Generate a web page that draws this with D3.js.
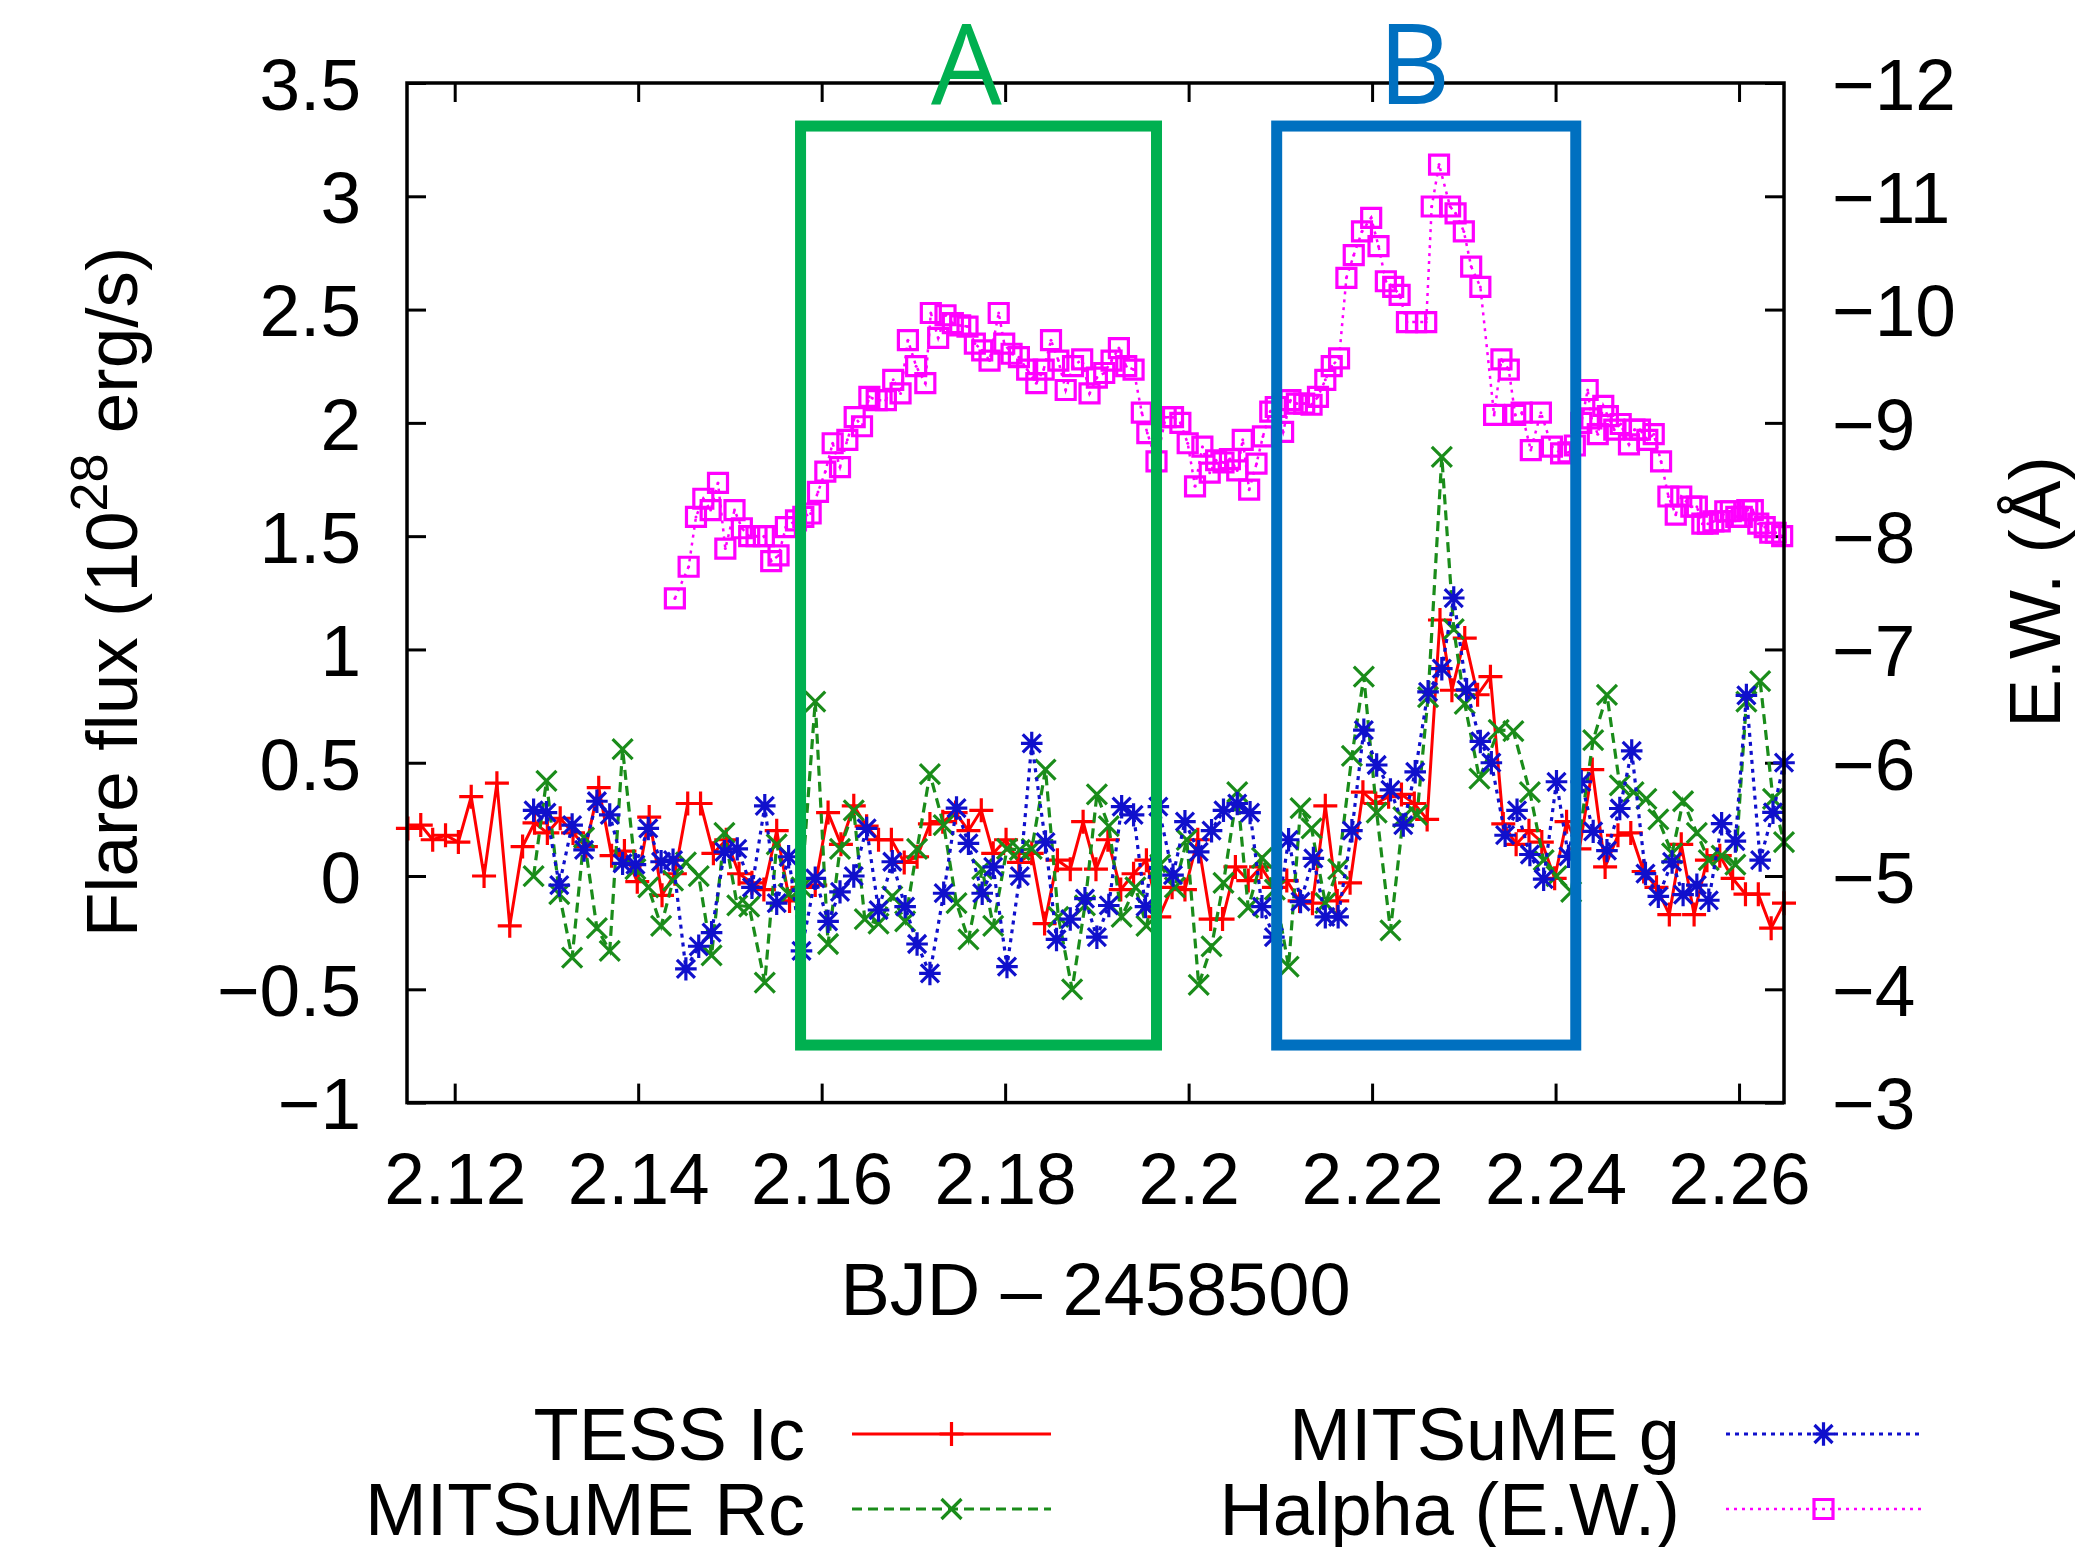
<!DOCTYPE html>
<html>
<head>
<meta charset="utf-8">
<script src="https://cdn.jsdelivr.net/npm/d3@7"></script>
<style>
  html, body { margin: 0; padding: 0; background: #fff; }
  svg text { font-family: "Liberation Sans", Arial, Helvetica, sans-serif; fill: #000; }
</style>
</head>
<body>
<svg id="chart" width="2087" height="1547"></svg>
<script>
// axis ticks
var xTicks = [2.12, 2.14, 2.16, 2.18, 2.2, 2.22, 2.24, 2.26];
var yTicks = [-1, -0.5, 0, 0.5, 1, 1.5, 2, 2.5, 3, 3.5];
var y2Ticks = [-12, -11, -10, -9, -8, -7, -6, -5, -4, -3];

// TESS Ic flare flux (1e28 erg/s)
var tessTime = [2.1149,2.1163,2.1176,2.1190,2.1204,2.1218,2.1232,2.1246,2.1260,2.1274,
  2.1287,2.1301,2.1315,2.1329,2.1343,2.1357,2.1371,2.1385,2.1399,2.1412,
  2.1426,2.1440,2.1454,2.1468,2.1482,2.1496,2.1510,2.1524,2.1537,2.1551,
  2.1565,2.1579,2.1593,2.1607,2.1621,2.1635,2.1649,2.1662,2.1676,2.1690,
  2.1704,2.1718,2.1732,2.1746,2.1760,2.1774,2.1787,2.1801,2.1815,2.1829,
  2.1843,2.1857,2.1871,2.1885,2.1899,2.1912,2.1926,2.1940,2.1954,2.1968,
  2.1982,2.1996,2.2010,2.2024,2.2037,2.2051,2.2065,2.2079,2.2093,2.2107,
  2.2121,2.2135,2.2149,2.2162,2.2176,2.2190,2.2204,2.2218,2.2232,2.2246,
  2.2260,2.2274,2.2287,2.2301,2.2315,2.2329,2.2343,2.2357,2.2371,2.2385,
  2.2399,2.2412,2.2426,2.2440,2.2454,2.2468,2.2482,2.2496,2.2510,2.2524,
  2.2537,2.2551,2.2565,2.2579,2.2593,2.2607,2.2621,2.2635,2.2649];
var tessFlux = [0.21,0.225,0.16,0.18,0.15,0.35,0.0,0.41,-0.22,0.13,
  0.235,0.19,0.255,0.19,0.13,0.39,0.09,0.11,-0.025,0.26,
  -0.085,0.01,0.32,0.32,0.10,0.16,0.01,-0.03,-0.06,0.20,
  -0.11,-0.05,-0.04,0.28,0.14,0.31,0.22,0.16,0.16,0.06,
  0.085,0.23,0.24,0.28,0.20,0.29,0.10,0.16,0.06,0.10,
  -0.21,0.07,0.03,0.24,0.03,0.16,-0.06,0.01,0.07,-0.18,
  -0.05,-0.06,0.16,-0.19,-0.19,0.04,-0.02,0.04,-0.05,-0.02,
  -0.11,-0.12,0.31,-0.11,-0.03,0.37,0.32,0.35,0.36,0.32,
  0.25,1.13,0.82,1.05,0.80,0.88,0.23,0.14,0.20,0.15,
  -0.01,0.24,0.12,0.47,0.04,0.18,0.19,0.02,-0.05,-0.17,
  0.14,-0.17,0.07,0.09,-0.01,-0.08,-0.08,-0.23,-0.12];

// MITSuME Rc
var rcTime = [2.1286,2.1300,2.1314,2.1328,2.1341,2.1355,2.1369,2.1383,2.1397,2.1411,
  2.1425,2.1438,2.1452,2.1466,2.1480,2.1494,2.1508,2.1521,2.1538,2.1551,
  2.1564,2.1578,2.1593,2.1607,2.1620,2.1635,2.1647,2.1662,2.1677,2.1691,
  2.1704,2.1718,2.1733,2.1747,2.1760,2.1775,2.1787,2.1802,2.1816,2.1829,
  2.1844,2.1858,2.1873,2.1887,2.1900,2.1913,2.1927,2.1942,2.1954,2.1969,
  2.1985,2.1998,2.2011,2.2025,2.2038,2.2053,2.2065,2.2080,2.2094,2.2109,
  2.2122,2.2134,2.2149,2.2163,2.2178,2.2191,2.2205,2.2220,2.2234,2.2249,
  2.2261,2.2276,2.2289,2.2301,2.2317,2.2338,2.2354,2.2372,2.2387,2.2401,
  2.2417,2.2441,2.2456,2.2470,2.2485,2.2499,2.2512,2.2527,2.2539,2.2554,
  2.2567,2.2581,2.2596,2.2608,2.2623,2.2637,2.2649];
var rcFlux = [0.0,0.42,-0.08,-0.36,0.17,-0.23,-0.33,0.56,0.03,-0.05,
  -0.22,-0.02,0.06,0.0,-0.35,0.19,-0.13,-0.135,-0.47,0.14,
  -0.08,-0.05,0.77,-0.30,0.12,0.29,-0.19,-0.21,-0.09,-0.20,
  0.12,0.45,0.225,-0.12,-0.28,0.03,-0.22,0.12,0.115,0.12,
  0.47,-0.18,-0.50,-0.13,0.36,0.22,-0.18,-0.05,-0.22,0.05,
  -0.05,0.16,-0.48,-0.31,-0.03,0.37,-0.14,0.08,-0.06,-0.40,
  0.30,0.21,-0.12,0.03,0.53,0.88,0.28,-0.24,0.26,0.27,
  0.79,1.85,1.09,0.76,0.43,0.645,0.64,0.37,0.07,0.0,
  -0.07,0.60,0.80,0.40,0.37,0.34,0.25,0.10,0.33,0.19,
  0.07,0.09,0.05,0.77,0.86,0.34,0.15];

// MITSuME g
var gTime = [2.1286,2.1300,2.1314,2.1328,2.1341,2.1355,2.1369,2.1383,2.1397,2.1411,
  2.1425,2.1438,2.1452,2.1466,2.1480,2.1494,2.1508,2.1524,2.1538,2.1551,
  2.1564,2.1578,2.1593,2.1607,2.1620,2.1635,2.1649,2.1662,2.1677,2.1691,
  2.1704,2.1718,2.1733,2.1747,2.1760,2.1775,2.1787,2.1802,2.1816,2.1829,
  2.1844,2.1856,2.1871,2.1887,2.1900,2.1913,2.1927,2.1940,2.1953,2.1967,
  2.1983,2.1996,2.2011,2.2025,2.2038,2.2053,2.2067,2.2080,2.2093,2.2109,
  2.2122,2.2136,2.2149,2.2163,2.2178,2.2191,2.2205,2.2220,2.2234,2.2247,
  2.2261,2.2276,2.2289,2.2303,2.2318,2.2330,2.2345,2.2358,2.2372,2.2387,
  2.2401,2.2414,2.2428,2.2441,2.2456,2.2470,2.2483,2.2498,2.2512,2.2527,
  2.2539,2.2554,2.2567,2.2581,2.2596,2.2608,2.2623,2.2637,2.2649];
var gFlux = [0.29,0.28,-0.04,0.225,0.115,0.33,0.27,0.056,0.05,0.21,
  0.063,0.07,-0.41,-0.31,-0.25,0.107,0.12,-0.05,0.31,-0.12,
  0.085,-0.33,-0.01,-0.20,-0.07,0.0,0.21,-0.15,0.063,-0.135,
  -0.30,-0.43,-0.076,0.30,0.144,-0.076,0.04,-0.40,0.0,0.585,
  0.15,-0.28,-0.19,-0.10,-0.27,-0.13,0.306,0.27,-0.135,0.306,
  0.004,0.24,0.107,0.20,0.29,0.32,0.28,-0.135,-0.27,0.16,
  -0.113,0.078,-0.18,-0.18,0.20,0.644,0.49,0.38,0.225,0.46,
  0.813,0.915,1.227,0.822,0.594,0.50,0.18,0.29,0.095,-0.014,
  0.416,0.087,0.416,0.197,0.112,0.298,0.552,0.011,-0.09,0.062,
  -0.082,-0.04,-0.107,0.231,0.154,0.797,0.07,0.281,0.5];

// Halpha equivalent width (Angstrom), right axis
var haTime = [2.1440,2.1455,2.1463,2.1471,2.1479,2.1487,2.1495,2.1505,2.1513,2.1521,
  2.1529,2.1537,2.1545,2.1553,2.1561,2.1572,2.1580,2.1588,2.1596,2.1604,
  2.1612,2.1620,2.1628,2.1636,2.1644,2.1652,2.1660,2.1670,2.1678,2.1686,
  2.1694,2.1703,2.1713,2.1719,2.1727,2.1735,2.1743,2.1751,2.1759,2.1767,
  2.1775,2.1783,2.1793,2.1799,2.1807,2.1815,2.1824,2.1834,2.1842,2.1850,
  2.1858,2.1866,2.1874,2.1884,2.1892,2.1900,2.1908,2.1916,2.1924,2.1932,
  2.1940,2.1949,2.1955,2.1965,2.1975,2.1983,2.1991,2.1999,2.2007,2.2015,
  2.2023,2.2030,2.2038,2.2045,2.2053,2.2059,2.2066,2.2074,2.2081,2.2089,
  2.2095,2.2103,2.2111,2.2118,2.2126,2.2134,2.2141,2.2149,2.2156,2.2164,
  2.2172,2.2180,2.2189,2.2199,2.2207,2.2215,2.2223,2.2230,2.2238,2.2248,
  2.2259,2.2265,2.2273,2.2285,2.2291,2.2300,2.2308,2.2318,2.2333,2.2341,
  2.2349,2.2356,2.2363,2.2373,2.2384,2.2396,2.2406,2.2414,2.2421,2.2428,
  2.2435,2.2439,2.2446,2.2452,2.2457,2.2464,2.2471,2.2480,2.2486,2.2492,
  2.2500,2.2507,2.2515,2.2523,2.2531,2.2537,2.2548,2.2554,2.2560,2.2566,
  2.2572,2.2579,2.2585,2.2591,2.2597,2.2603,2.2609,2.2615,2.2621,2.2628,
  2.2634,2.2640,2.2647];
var haEW = [-7.45,-7.73,-8.17,-8.33,-8.23,-8.47,-7.89,-8.23,-8.07,-8.00,
  -8.00,-8.00,-7.78,-7.83,-8.08,-8.14,-8.17,-8.20,-8.39,-8.57,
  -8.82,-8.61,-8.85,-9.05,-8.97,-9.23,-9.20,-9.20,-9.38,-9.26,
  -9.73,-9.50,-9.35,-9.97,-9.75,-9.95,-9.88,-9.86,-9.85,-9.70,
  -9.64,-9.55,-9.97,-9.70,-9.61,-9.58,-9.47,-9.35,-9.47,-9.73,
  -9.55,-9.29,-9.50,-9.56,-9.26,-9.40,-9.44,-9.55,-9.66,-9.50,
  -9.47,-9.09,-8.91,-8.66,-9.05,-9.05,-9.00,-8.82,-8.44,-8.79,
  -8.56,-8.67,-8.65,-8.68,-8.58,-8.85,-8.41,-8.64,-8.88,-9.10,
  -9.14,-8.92,-9.20,-9.17,-9.17,-9.16,-9.23,-9.38,-9.50,-9.57,
  -10.28,-10.48,-10.69,-10.81,-10.56,-10.25,-10.20,-10.13,-9.89,-9.89,
  -9.89,-10.91,-11.28,-10.91,-10.85,-10.69,-10.38,-10.20,-9.07,-9.56,
  -9.47,-9.07,-9.09,-8.76,-9.09,-8.79,-8.73,-8.74,-8.80,-9.00,
  -9.29,-9.04,-8.90,-9.15,-9.06,-8.94,-8.99,-8.81,-8.94,-8.94,
  -8.85,-8.90,-8.66,-8.35,-8.19,-8.35,-8.26,-8.26,-8.11,-8.11,
  -8.13,-8.13,-8.22,-8.22,-8.17,-8.17,-8.23,-8.23,-8.11,-8.08,
  -8.03,-8.03,-8.00];

// highlighted intervals A and B (time, flux extents)
var regionLabels = ["A", "B"];
var regionStart = [2.1577, 2.2096];
var regionEnd = [2.1965, 2.2422];
var regionTop = [3.31, 3.31];
var regionBottom = [-0.746, -0.746];
var regionColors = ["#00b050", "#0070c0"];

(function () {
  var svg = d3.select("#chart");
  svg.append("rect").attr("width", 2087).attr("height", 1547).attr("fill", "#fff");

  var plotLeft = 407, plotRight = 1784, plotTop = 83, plotBottom = 1102.6;
  var x = d3.scaleLinear().domain([2.1148, 2.2649]).range([plotLeft, plotRight]);
  var y = d3.scaleLinear().domain([-1, 3.5]).range([plotBottom, plotTop]);
  var y2 = d3.scaleLinear().domain([-3, -12]).range([plotBottom, plotTop]);

  var fmt = d3.format("~g");
  var tickLen = 19;

  // axes, ticks inward
  var gx = svg.append("g").attr("transform", "translate(0," + plotBottom + ")")
    .call(d3.axisBottom(x).tickValues(xTicks).tickFormat(fmt).tickSize(-tickLen).tickPadding(50));
  var gxt = svg.append("g").attr("transform", "translate(0," + plotTop + ")")
    .call(d3.axisTop(x).tickValues(xTicks).tickFormat("").tickSize(-tickLen));
  var gy = svg.append("g").attr("transform", "translate(" + plotLeft + ",0)")
    .call(d3.axisLeft(y).tickValues(yTicks).tickFormat(fmt).tickSize(-tickLen).tickPadding(46));
  var gy2 = svg.append("g").attr("transform", "translate(" + plotRight + ",0)")
    .call(d3.axisRight(y2).tickValues(y2Ticks).tickFormat(fmt).tickSize(-tickLen).tickPadding(48));

  [gx, gxt, gy, gy2].forEach(function (g) {
    g.select(".domain").remove();
    g.selectAll(".tick line").attr("stroke", "#000").attr("stroke-width", 3);
    g.selectAll(".tick text").attr("font-size", 73)
      .attr("font-family", "Liberation Sans, Arial, sans-serif").attr("fill", "#000");
  });
  gy.selectAll(".tick text").attr("dy", "0.36em");
  gy2.selectAll(".tick text").attr("dy", "0.36em");

  // marker shapes
  var markerPath = {
    plus: function (s) { return "M" + (-s) + ",0H" + s + "M0," + (-s) + "V" + s; },
    cross: function (s) { return "M" + (-s) + "," + (-s) + "L" + s + "," + s + "M" + (-s) + "," + s + "L" + s + "," + (-s); },
    star: function (s) {
      return "M" + (-s) + "," + (-s) + "L" + s + "," + s + "M" + (-s) + "," + s + "L" + s + "," + (-s) +
        "M0," + (-s * 1.3) + "V" + (s * 1.3) + "M" + (-s * 1.2) + ",0H" + (s * 1.2);
    },
    square: function (s) { return "M" + (-s) + "," + (-s) + "H" + s + "V" + s + "H" + (-s) + "Z"; }
  };

  var series = [
    { name: "TESS Ic", t: tessTime, v: tessFlux, scale: y, color: "#ff0000", dash: null, lw: 3, marker: "plus", ms: 12 },
    { name: "MITSuME Rc", t: rcTime, v: rcFlux, scale: y, color: "#1a8c1a", dash: "10,6", lw: 3.2, marker: "cross", ms: 10 },
    { name: "MITSuME g", t: gTime, v: gFlux, scale: y, color: "#1010cc", dash: "4,5", lw: 3.2, marker: "star", ms: 9 },
    { name: "Halpha (E.W.)", t: haTime, v: haEW, scale: y2, color: "#ff00ff", dash: "3,5", lw: 2.5, marker: "square", ms: 9.5 }
  ];

  series.forEach(function (s) {
    var pts = s.t.map(function (t, i) { return [t, s.v[i]]; });
    var line = d3.line()
      .x(function (d) { return x(d[0]); })
      .y(function (d) { return s.scale(d[1]); });
    var g = svg.append("g").attr("class", "series");
    g.append("path")
      .attr("d", line(pts))
      .attr("fill", "none")
      .attr("stroke", s.color)
      .attr("stroke-width", s.lw)
      .attr("stroke-dasharray", s.dash);
    g.selectAll("path.pt").data(pts).enter().append("path")
      .attr("class", "pt")
      .attr("transform", function (d) { return "translate(" + x(d[0]) + "," + s.scale(d[1]) + ")"; })
      .attr("d", markerPath[s.marker](s.ms))
      .attr("fill", "none")
      .attr("stroke", s.color)
      .attr("stroke-width", 3.2);
    if (s.marker === "square") {
      g.selectAll("circle").data(pts).enter().append("circle")
        .attr("cx", function (d) { return x(d[0]); })
        .attr("cy", function (d) { return s.scale(d[1]); })
        .attr("r", 1.5).attr("fill", s.color);
    }
  });

  // frame
  svg.append("rect")
    .attr("x", plotLeft).attr("y", plotTop)
    .attr("width", plotRight - plotLeft).attr("height", plotBottom - plotTop)
    .attr("fill", "none").attr("stroke", "#000").attr("stroke-width", 3.5);

  // highlighted regions
  regionLabels.forEach(function (lab, i) {
    svg.append("rect")
      .attr("x", x(regionStart[i])).attr("y", y(regionTop[i]))
      .attr("width", x(regionEnd[i]) - x(regionStart[i]))
      .attr("height", y(regionBottom[i]) - y(regionTop[i]))
      .attr("fill", "none").attr("stroke", regionColors[i]).attr("stroke-width", 11);
    svg.append("text")
      .attr("x", (x(regionStart[i]) + x(regionEnd[i])) / 2 - 12)
      .attr("y", 104)
      .attr("text-anchor", "middle")
      .attr("font-size", 112)
      .style("font-family", "'Open Sans', 'Noto Sans', sans-serif")
      .style("fill", regionColors[i])
      .text(lab);
  });

  // axis titles
  svg.append("text")
    .attr("x", (plotLeft + plotRight) / 2).attr("y", 1315)
    .attr("text-anchor", "middle").attr("font-size", 74)
    .text("BJD \u2013 2458500");

  var yt = svg.append("text")
    .attr("transform", "translate(137,592) rotate(-90)")
    .attr("text-anchor", "middle").attr("font-size", 73);
  yt.append("tspan").text("Flare flux (10");
  yt.append("tspan").attr("font-size", 52).attr("dy", -30).text("28");
  yt.append("tspan").attr("dy", 30).text(" erg/s)");

  svg.append("text")
    .attr("transform", "translate(2060,592) rotate(-90)")
    .attr("text-anchor", "middle").attr("font-size", 73)
    .text("E.W. (\u00c5)");

  // legend
  var legendPos = [
    { textX: 805, lineX0: 852, lineX1: 1051, y: 1434 },
    { textX: 805, lineX0: 852, lineX1: 1051, y: 1509 },
    { textX: 1680, lineX0: 1726, lineX1: 1921, y: 1434 },
    { textX: 1680, lineX0: 1726, lineX1: 1921, y: 1509 }
  ];
  series.forEach(function (s, i) {
    var p = legendPos[i];
    svg.append("text")
      .attr("x", p.textX).attr("y", p.y + 26)
      .attr("text-anchor", "end").attr("font-size", 74)
      .text(s.name);
    svg.append("line")
      .attr("x1", p.lineX0).attr("x2", p.lineX1)
      .attr("y1", p.y).attr("y2", p.y)
      .attr("stroke", s.color).attr("stroke-width", s.lw)
      .attr("stroke-dasharray", s.dash);
    svg.append("path")
      .attr("transform", "translate(" + (p.lineX0 + p.lineX1) / 2 + "," + p.y + ")")
      .attr("d", markerPath[s.marker](s.ms))
      .attr("fill", "none").attr("stroke", s.color).attr("stroke-width", 3.2);
  });
})();
</script>
</body>
</html>
